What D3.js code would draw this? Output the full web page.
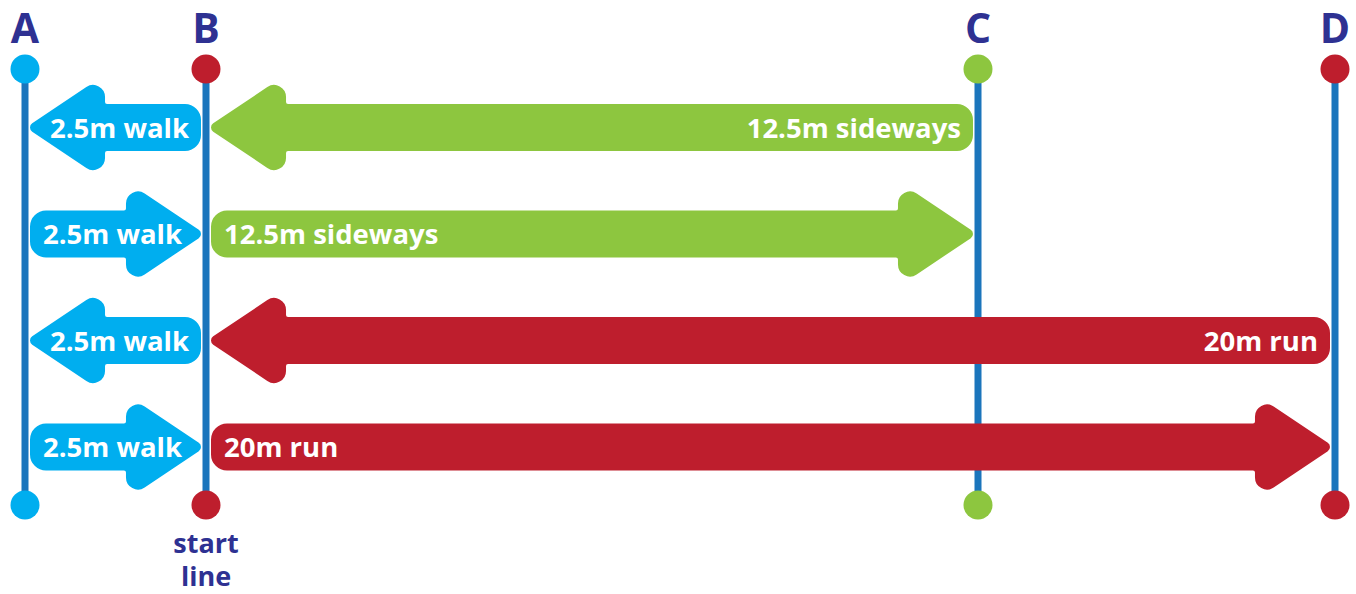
<!DOCTYPE html>
<html>
<head>
<meta charset="utf-8">
<script src="https://cdn.jsdelivr.net/npm/d3@7"></script>
<style>
  html, body { margin: 0; padding: 0; background: #fff; }
  svg { display: block; }
  text { font-family: "Open Sans", "Noto Sans", sans-serif; font-weight: 700; }
</style>
</head>
<body>
<svg id="chart" width="1356" height="594"></svg>
<script>
// ---------- data ----------
const markerNames  = ["A", "B", "C", "D"];
const markerMeters = [0, 2.5, 15, 22.5];
const markerNote   = ["", "start line", "", ""];

// legs of the shuttle, row by row (in metres from line A)
const legRow   = [0, 0, 1, 1, 2, 2, 3, 3];
const legFrom  = [2.5, 15, 0, 2.5, 2.5, 22.5, 0, 2.5];
const legTo    = [0, 2.5, 2.5, 15, 0, 2.5, 2.5, 22.5];
const legLabel = ["2.5m walk", "12.5m sideways", "2.5m walk", "12.5m sideways",
                  "2.5m walk", "20m run", "2.5m walk", "20m run"];
const legKind  = ["walk", "sideways", "walk", "sideways", "walk", "run", "walk", "run"];

// ---------- styles ----------
const kindColor = { walk: "#00aeef", sideways: "#8dc63f", run: "#be1e2d" };
const markerColor = { A: "#00aeef", B: "#be1e2d", C: "#8dc63f", D: "#be1e2d" };
const lineColor = "#1b75bc";
const navy = "#2e3192";

const svg = d3.select("#chart");

// schematic (piecewise) position scale
const x = d3.scaleLinear().domain(markerMeters).range([25, 206, 978, 1335]);
const y = d3.scaleLinear().domain([0, 3]).range([127.5, 447]);

const topY = 69, botY = 505;

// vertical lines
svg.append("g").selectAll("line").data(markerMeters).join("line")
  .attr("x1", d => x(d)).attr("x2", d => x(d))
  .attr("y1", topY).attr("y2", botY)
  .attr("stroke", lineColor).attr("stroke-width", 7);

// arrows
const legs = legRow.map((r, i) => ({
  row: r, from: legFrom[i], to: legTo[i], label: legLabel[i], kind: legKind[i]
}));

const h = 23.5, H = 53, L = 79, gap = 5;
const rTail = 16, rJoin = 2, rBack = 12, rTip = 5;

function arrowPath(x0, x1, cy) {
  const dir = x1 > x0 ? 1 : -1;
  const theta = Math.atan(H / L);
  const tipExt = rTip / Math.sin(theta) - rTip;
  const xt = x1 + dir * tipExt;
  const xb = xt - dir * L;
  const pts = [
    [x0, cy - h], [xb, cy - h], [xb, cy - H], [xt, cy],
    [xb, cy + H], [xb, cy + h], [x0, cy + h]
  ];
  const radii = [rTail, rJoin, rBack, rTip, rBack, rJoin, rTail];
  const p = d3.path();
  const n = pts.length;
  const last = pts[n - 1], first = pts[0];
  p.moveTo((last[0] + first[0]) / 2, (last[1] + first[1]) / 2);
  for (let i = 0; i < n; i++) {
    const P = pts[i], N = pts[(i + 1) % n];
    p.arcTo(P[0], P[1], N[0], N[1], radii[i]);
  }
  p.closePath();
  return p.toString();
}

const ag = svg.append("g");
legs.forEach(d => {
  const dir = d.to > d.from ? 1 : -1;
  const x0 = x(d.from) + dir * gap;
  const x1 = x(d.to) - dir * gap;
  const cy = y(d.row);
  ag.append("path")
    .attr("d", arrowPath(x0, x1, cy))
    .attr("fill", kindColor[d.kind]);
  const pad = dir > 0 ? 13 : 12;
  ag.append("text")
    .attr("x", x0 + dir * pad)
    .attr("y", cy + 10)
    .attr("text-anchor", dir > 0 ? "start" : "end")
    .attr("font-size", 27.5)
    .attr("fill", "#fff")
    .text(d.label);
});

// dots
const mk = markerNames.map((n, i) => ({ name: n, m: markerMeters[i], note: markerNote[i] }));
svg.append("g").selectAll("circle").data(mk).join("circle")
  .attr("cx", d => x(d.m)).attr("cy", topY).attr("r", 14.5)
  .attr("fill", d => markerColor[d.name]);
svg.append("g").selectAll("circle").data(mk).join("circle")
  .attr("cx", d => x(d.m)).attr("cy", botY).attr("r", 14.5)
  .attr("fill", d => markerColor[d.name]);

// letters
svg.append("g").selectAll("text").data(mk).join("text")
  .attr("x", d => x(d.m)).attr("y", 43)
  .attr("text-anchor", "middle")
  .attr("font-size", 41)
  .attr("fill", navy)
  .text(d => d.name);

// notes under lines
mk.filter(d => d.note).forEach(d => {
  const words = d.note.split(" ");
  const t = svg.append("text")
    .attr("x", x(d.m)).attr("y", 553)
    .attr("text-anchor", "middle")
    .attr("font-size", 27)
    .attr("fill", navy);
  words.forEach((w, i) => {
    t.append("tspan").attr("x", x(d.m)).attr("dy", i === 0 ? 0 : 33).text(w);
  });
});
</script>
</body>
</html>
